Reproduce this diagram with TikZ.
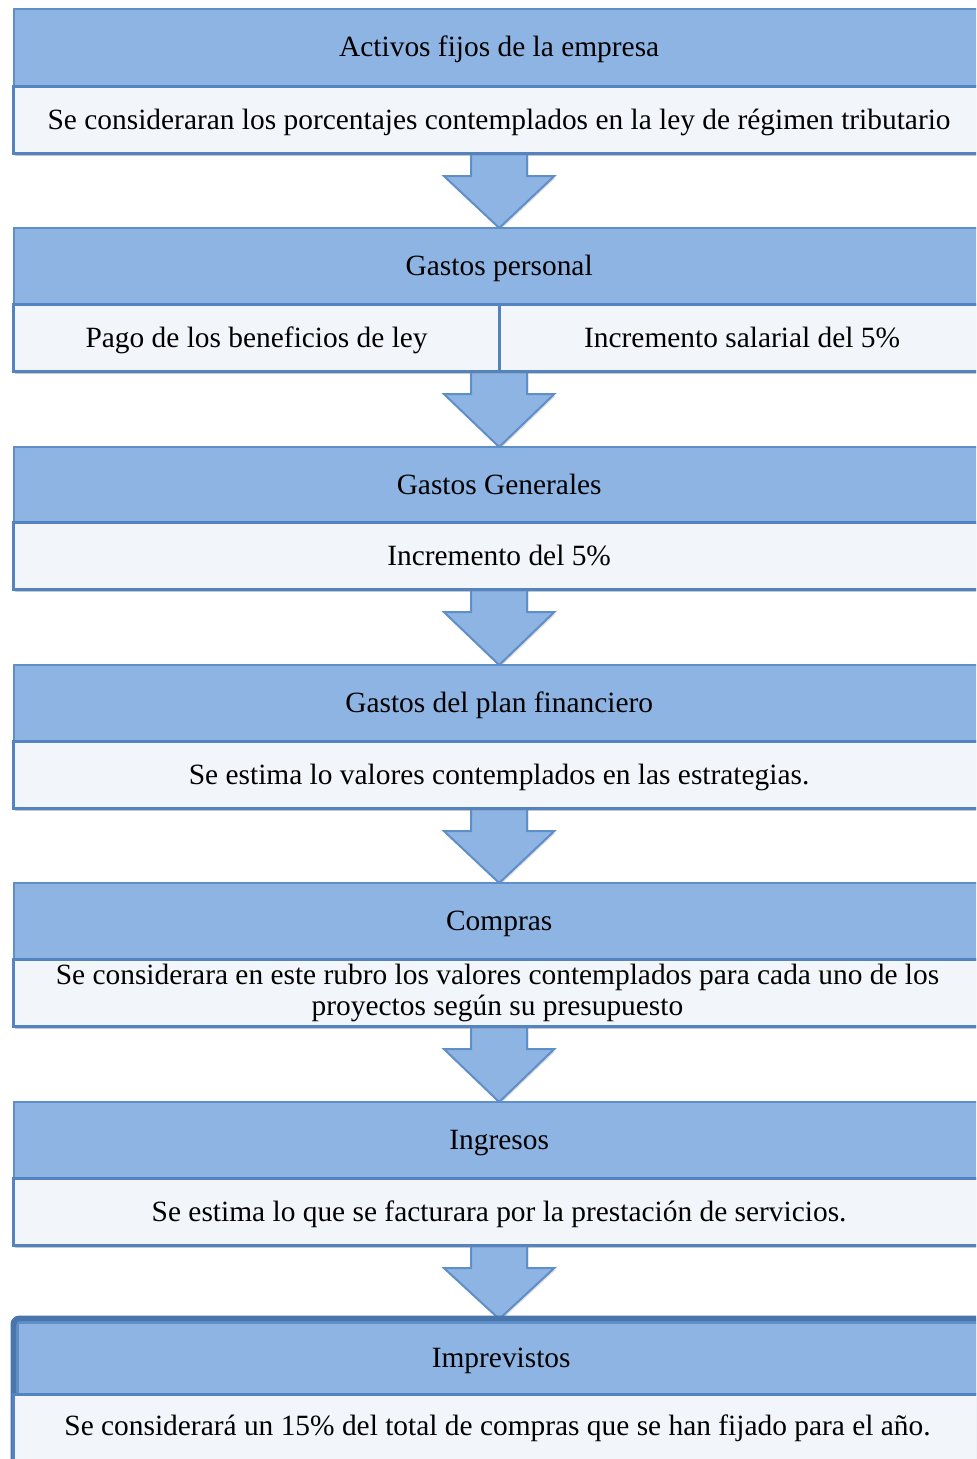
\documentclass[tikz,border=0pt]{standalone}
\usepackage{fontspec}
\setmainfont{Liberation Serif}
\usetikzlibrary{calc,shadows}
\definecolor{hdfill}{RGB}{141,180,227}
\definecolor{hdline}{RGB}{95,143,201}
\definecolor{sbfill}{RGB}{242,245,250}
\definecolor{sbline}{RGB}{84,132,192}
\definecolor{frameline}{RGB}{72,117,172}
\tikzset{
  txt/.style={font=\fontsize{14.7}{15.5}\selectfont, text=black, align=center},
  oneline/.style={text height=11.5pt, text depth=2.5pt},
  hdr/.style={txt, oneline, draw=hdline, fill=hdfill, line width=1.2pt, minimum width=485pt,
    minimum height=38.5pt, anchor=north west, inner sep=0pt},
  sub/.style={txt, oneline, draw=sbline, fill=sbfill, line width=1.6pt, minimum width=485.5pt,
    minimum height=33.5pt, anchor=north west, inner sep=0pt,
    drop shadow={shadow xshift=0.6pt, shadow yshift=-1pt, opacity=0.25, fill=gray}},
  half/.style={sub, minimum width=243pt},
  blockarrow/.style={draw=hdline, fill=hdfill, line width=1pt, line join=miter,
    drop shadow={shadow xshift=0.6pt, shadow yshift=-1pt, opacity=0.25, fill=gray}}
}
\newcommand{\blockarr}[2]{%
  \draw[blockarrow] ($(#1.south)+(-28,-2)$) -- ($(#1.south)+(-28,21)$) -- ($(#1.south)+(-55,21)$)
    -- ($(#2.north)+(0,1)$) -- ($(#1.south)+(55,21)$) -- ($(#1.south)+(28,21)$)
    -- ($(#1.south)+(28,-2)$) -- cycle;}
\begin{document}
\begin{tikzpicture}[x=0.5pt,y=-0.5pt]
\useasboundingbox (0,0) rectangle (976,1459);
\clip (0,0) rectangle (976,1459);
\fill[white] (0,0) rectangle (976,1459);
% position anchors for blocks (nodes drawn later, arrows drawn first)
\path
  (13,8)    node[hdr, draw=none, fill=none] (p1) {}
  (13,227)  node[hdr, draw=none, fill=none] (p2) {}
  (13,446)  node[hdr, draw=none, fill=none] (p3) {}
  (13,664)  node[hdr, draw=none, fill=none] (p4) {}
  (13,882)  node[hdr, draw=none, fill=none] (p5) {}
  (13,1101) node[hdr, draw=none, fill=none] (p6) {}
  (13,1318) node[hdr, draw=none, fill=none] (p7) {};
\path
  (12,85)   node[sub, draw=none, fill=none, drop shadow={opacity=0}] (q1) {}
  (12,303)  node[sub, draw=none, fill=none, drop shadow={opacity=0}] (q2) {}
  (12,521)  node[sub, draw=none, fill=none, drop shadow={opacity=0}] (q3) {}
  (12,740)  node[sub, draw=none, fill=none, drop shadow={opacity=0}] (q4) {}
  (12,958)  node[sub, draw=none, fill=none, drop shadow={opacity=0}] (q5) {}
  (12,1177) node[sub, draw=none, fill=none, drop shadow={opacity=0}] (q6) {};
% connectors (block arrows)
\blockarr{q1}{p2}
\blockarr{q2}{p3}
\blockarr{q3}{p4}
\blockarr{q4}{p5}
\blockarr{q5}{p6}
\blockarr{q6}{p7}
% block 1
\node[hdr] (h1) at (13,8) {Activos fijos de la empresa};
\node[sub] (s1) at (12,85) {Se consideraran los porcentajes contemplados en la ley de régimen tributario};
% block 2
\node[hdr] (h2) at (13,227) {Gastos personal};
\node[half] (s2a) at (12,303) {Pago de los beneficios de ley};
\node[half, minimum width=242.5pt] (s2b) at (498,303) {Incremento salarial del 5\%};
% block 3
\node[hdr] (h3) at (13,446) {Gastos Generales};
\node[sub] (s3) at (12,521) {Incremento del 5\%};
% block 4
\node[hdr] (h4) at (13,664) {Gastos del plan financiero};
\node[sub] (s4) at (12,740) {Se estima lo valores contemplados en las estrategias.};
% block 5
\node[hdr] (h5) at (13,882) {Compras};
\node[sub] (s5) at (12,958) {};
\node[txt] (t5) at (497.5,993) {Se considerara en este rubro los valores contemplados para cada uno de los\\proyectos según su presupuesto};
% block 6
\node[hdr] (h6) at (13,1101) {Ingresos};
\node[sub] (s6) at (12,1177) {Se estima lo que se facturara por la prestación de servicios.};
% block 7 (framed)
\draw[frameline, line width=3pt, rounded corners=3pt, fill=hdfill] (13.5,1318.5) rectangle (1000,1500);
\node[hdr, minimum width=483pt, minimum height=35.5pt] (h7) at (17,1322) {Imprevistos};
\node[sub, minimum height=36pt] (s7) at (12,1393) {};
\node[txt, oneline] (t7) at (497.5,1426) {Se considerará un 15\% del total de compras que se han fijado para el año.};
\end{tikzpicture}
\end{document}
